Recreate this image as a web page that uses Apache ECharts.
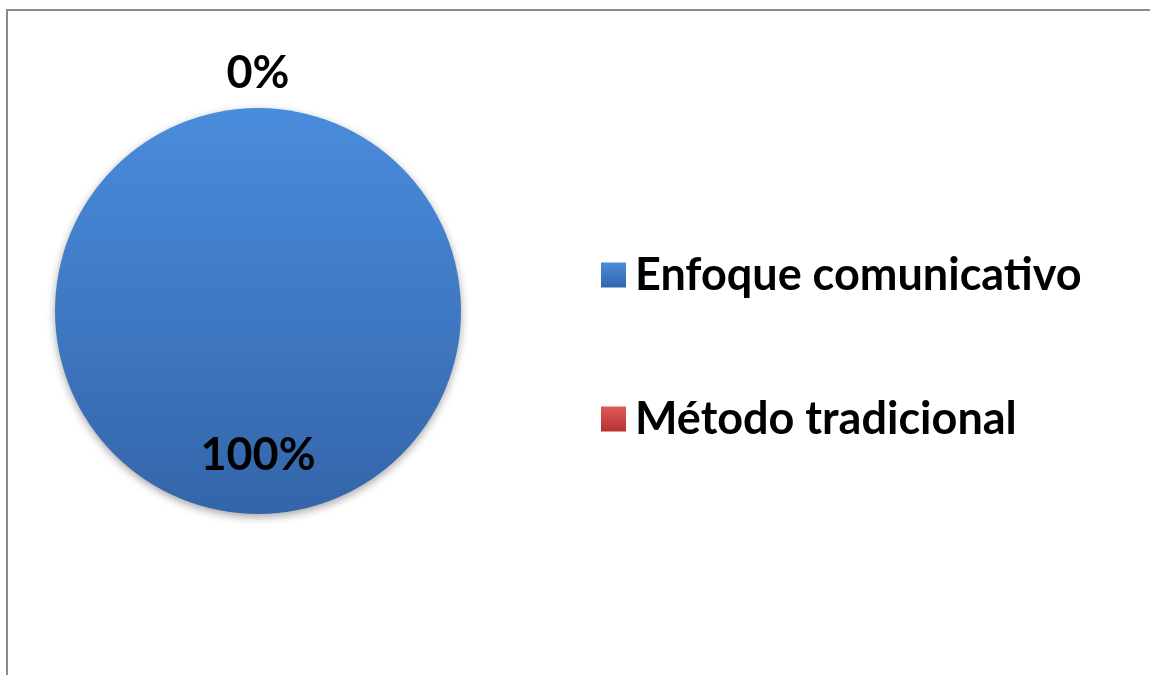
<!DOCTYPE html>
<html>
<head>
    <meta charset='utf-8'>
    <title>Enfoque</title>
    <script src='https://cdn.jsdelivr.net/npm/echarts@6/dist/echarts.min.js'></script>
    <style>
        body { margin: 0; background: #fff; }
        #main { width: 1150px; height: 675px; }
    </style>
</head>
<body>
    <div id='main'></div>
    <script type='text/javascript'>
        // datos
        var categories = ['Enfoque comunicativo', 'Método tradicional'];
        var values = [100, 0];
        var colorsTop = ['#4a8cdc', '#e05a5a'];
        var colorsBottom = ['#3465aa', '#b83232'];

        var myChart = echarts.init(document.getElementById('main'));

        var fontFam = 'Lato, "Open Sans", sans-serif';

        var pieData = categories.map(function (name, i) {
            return {
                name: name,
                value: values[i],
                itemStyle: {
                    color: new echarts.graphic.LinearGradient(0, 0, 0, 1, [
                        { offset: 0, color: colorsTop[i] },
                        { offset: 1, color: colorsBottom[i] }
                    ])
                }
            };
        });

        var option = {
            backgroundColor: '#ffffff',
            animation: false,
            graphic: [{
                type: 'rect',
                shape: { x: 7, y: 10, width: 1300, height: 800 },
                style: { fill: 'none', stroke: '#8a8a8a', lineWidth: 2 }
            }],
            legend: {
                orient: 'vertical',
                left: 596,
                top: 245,
                itemWidth: 25,
                itemHeight: 25,
                itemGap: 94,
                icon: 'rect',
                data: categories,
                textStyle: {
                    fontFamily: fontFam,
                    fontWeight: 'bold',
                    fontSize: 45,
                    lineHeight: 50,
                    color: '#000',
                    padding: [0, 0, 0, 4]
                }
            },
            series: [{
                type: 'pie',
                center: [258, 311],
                radius: 203,
                startAngle: 90,
                clockwise: true,
                avoidLabelOverlap: false,
                label: {
                    show: true,
                    position: 'inside',
                    formatter: '{d}%',
                    fontFamily: fontFam,
                    fontWeight: 'bold',
                    fontSize: 45,
                    color: '#000'
                },
                // desplaza las etiquetas como en el original
                labelLayout: function (params) {
                    return params.dataIndex === 0 ? { dy: 40 } : { dy: -133 };
                },
                labelLine: { show: false },
                itemStyle: {
                    borderWidth: 0,
                    shadowBlur: 8,
                    shadowColor: 'rgba(0,0,0,0.35)',
                    shadowOffsetY: 3
                },
                emphasis: { disabled: true },
                data: pieData
            }]
        };

        myChart.setOption(option);
    </script>
</body>
</html>
